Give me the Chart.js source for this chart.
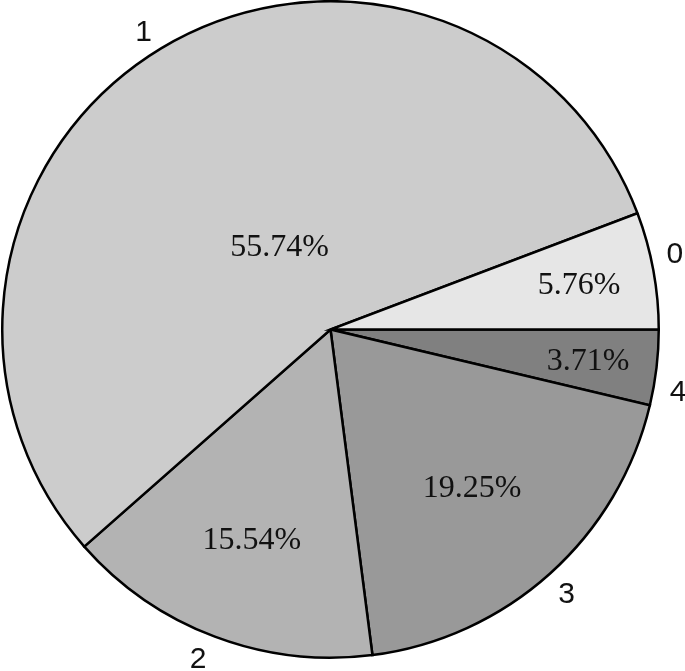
<!DOCTYPE html>
<html>
<head>
<meta charset="utf-8">
<script src="https://cdn.jsdelivr.net/npm/chart.js@4"></script>
<style>
  html, body { margin: 0; padding: 0; background: #fff; }
  #wrap { width: 685px; height: 671px; }
</style>
</head>
<body>
<div id="wrap"><canvas id="myChart"></canvas></div>
<script>
const categories = ['0', '1', '2', '3', '4']
const shares = [5.76, 55.74, 15.54, 19.25, 3.71]
const pctLabels = ['5.76%', '55.74%', '15.54%', '19.25%', '3.71%']
const colors = ['#e6e6e6', '#cccccc', '#b3b3b3', '#999999', '#808080']

// where the % text sits, as a fraction of radius (per slice)
const pctDist = [0.77, 0.30, 0.68, 0.645, 0.79]
// small angle nudges (degrees) for the outer category labels
const nameNudge = [2.3, 0.9, -1.4, 0, -3.2]

// chart.js draws clockwise, the reference goes counter-clockwise -> reverse
const rev = a => a.slice().reverse()

const sliceLabels = {
    id: 'sliceLabels',
    afterDatasetsDraw(chart) {
        const ctx = chart.ctx
        const arcs = chart.getDatasetMeta(0).data
        const n = arcs.length
        ctx.save()
        ctx.textAlign = 'center'
        ctx.textBaseline = 'middle'
        ctx.fillStyle = '#111'
        arcs.forEach((arc, j) => {
            const i = n - 1 - j
            const p = arc.getProps(['x', 'y', 'startAngle', 'endAngle', 'outerRadius'], true)
            const mid = (p.startAngle + p.endAngle) / 2
            const r1 = p.outerRadius * pctDist[i]
            ctx.font = '32px "Liberation Serif", "Times New Roman", serif'
            ctx.fillText(pctLabels[i], p.x + Math.cos(mid) * r1, p.y + Math.sin(mid) * r1 + 2)
            const a2 = mid - nameNudge[i] * Math.PI / 180
            const r2 = p.outerRadius * 1.075
            ctx.font = '30px "Liberation Sans", Arial, sans-serif'
            ctx.fillText(categories[i], p.x + Math.cos(a2) * r2, p.y + Math.sin(a2) * r2 + 3)
        })
        ctx.restore()
    }
}

const data = {
    labels: rev(categories),
    datasets: [{
        data: rev(shares),
        backgroundColor: rev(colors),
        borderColor: '#000',
        borderWidth: 2.5,
        borderJoinStyle: 'miter'
    }]
}

const config = {
    type: 'pie',
    data: data,
    options: {
        responsive: true,
        maintainAspectRatio: false,
        animation: false,
        rotation: 90,
        layout: { padding: { left: 1, right: 25, top: 0, bottom: 12 } },
        plugins: {
            legend: { display: false },
            tooltip: { enabled: false }
        }
    },
    plugins: [sliceLabels]
}

const myChart = new Chart(document.getElementById('myChart'), config)
</script>
</body>
</html>
